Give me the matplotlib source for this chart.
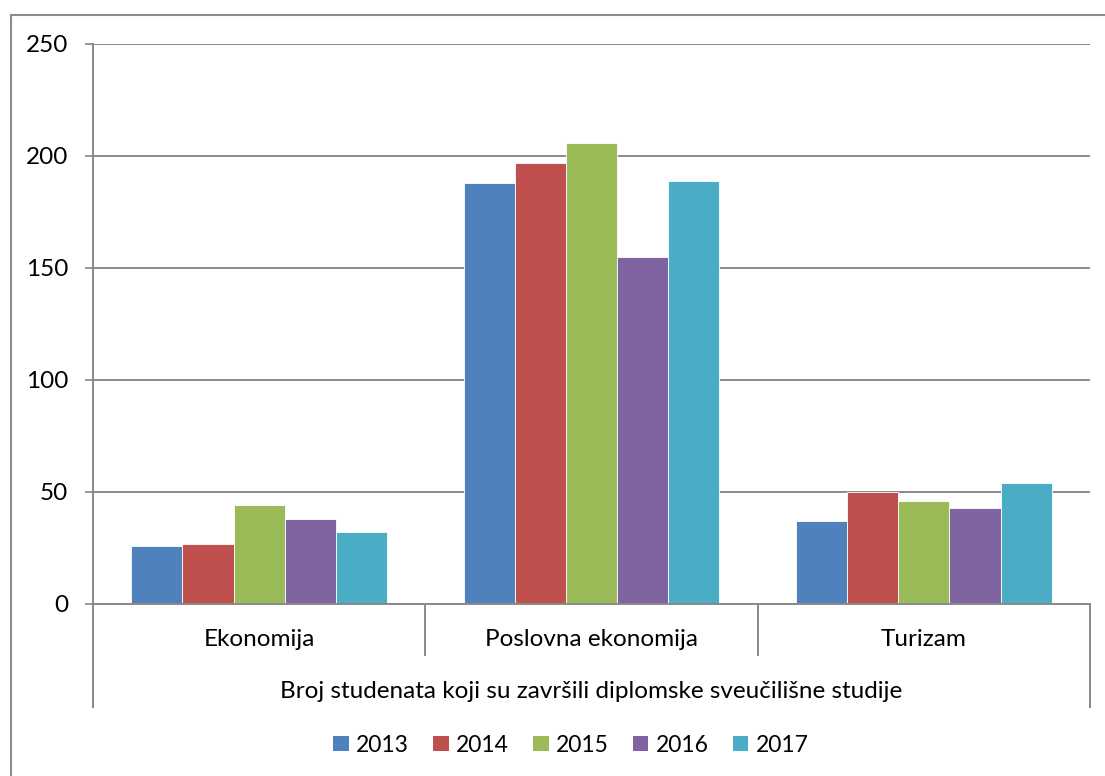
import matplotlib
matplotlib.use("Agg")
import matplotlib.pyplot as plt
import matplotlib.transforms as mtransforms
from matplotlib.lines import Line2D
from matplotlib.patches import Patch
import numpy as np

plt.rcParams['font.family'] = ['Lato', 'DejaVu Sans']

categories = ['Ekonomija', 'Poslovna ekonomija', 'Turizam']
years = ['2013', '2014', '2015', '2016', '2017']
values = {
    '2013': [26, 188, 37],
    '2014': [27, 197, 50],
    '2015': [44, 206, 46],
    '2016': [38, 155, 43],
    '2017': [32, 189, 54],
}
group_label = 'Broj studenata koji su završili diplomske sveučilišne studije'
colors = ['#4F81BD', '#C0504D', '#9BBB59', '#8064A2', '#4BACC6']

W, H = 1105, 776
fig = plt.figure(figsize=(W / 100, H / 100), dpi=100)

# plot area in pixels: x 93..1090, y 44..604
x0, x1, y0, y1 = 93, 1090, 44, 604
ax = fig.add_axes([x0 / W, 1 - y1 / H, (x1 - x0) / W, (y1 - y0) / H])

grid_col = '#898989'
fs = 17.5
w = 1 / 6.5
x = np.arange(len(categories))
for j, yr in enumerate(years):
    ax.bar(x + (j - 2) * w, values[yr], width=w, color=colors[j],
           edgecolor='white', linewidth=0.6, zorder=3)

ax.set_xlim(-0.5, len(categories) - 0.5)
ax.set_ylim(0, 250)
ax.set_yticks(np.arange(0, 251, 50))
ax.yaxis.grid(True, color=grid_col, linewidth=1.4)
ax.set_axisbelow(True)
ax.set_xticks([])
ax.tick_params(axis='y', length=6, width=1.2, color=grid_col, labelsize=fs, pad=12)
for s in ['top', 'right']:
    ax.spines[s].set_visible(False)
for s in ['left', 'bottom']:
    ax.spines[s].set_color(grid_col)
    ax.spines[s].set_linewidth(1.4)
ax.spines['bottom'].set_zorder(4)

# multi-level category axis
trans = mtransforms.blended_transform_factory(ax.transData, ax.transAxes)
ph = y1 - y0
for k in range(len(categories) + 1):
    xb = k - 0.5
    depth = 103 if k in (0, len(categories)) else 51
    ax.add_line(Line2D([xb, xb], [0, -depth / ph], transform=trans,
                       color=grid_col, linewidth=1.4, clip_on=False))
for i, c in enumerate(categories):
    ax.text(i, -35 / ph, c, transform=trans, ha='center', va='center', fontsize=fs)
ax.text(1, -87 / ph, group_label, transform=trans, ha='center', va='center', fontsize=fs)

# legend
handles = [Patch(facecolor=colors[j], edgecolor='none', label=yr) for j, yr in enumerate(years)]
fig.legend(handles=handles, loc='center', bbox_to_anchor=(571 / W, 1 - 745 / H),
           ncol=5, frameon=False, fontsize=16.5, handlelength=0.68, handleheight=0.68,
           handletextpad=0.32, columnspacing=1.05)

# chart area border (only top and left visible)
fig.add_artist(Line2D([11 / W, 1], [1 - 15 / H, 1 - 15 / H], transform=fig.transFigure,
                      color='#8c8c8c', linewidth=1.5))
fig.add_artist(Line2D([11 / W, 11 / W], [0, 1 - 15 / H], transform=fig.transFigure,
                      color='#8c8c8c', linewidth=1.5))

fig.savefig('out.png', dpi=100)
